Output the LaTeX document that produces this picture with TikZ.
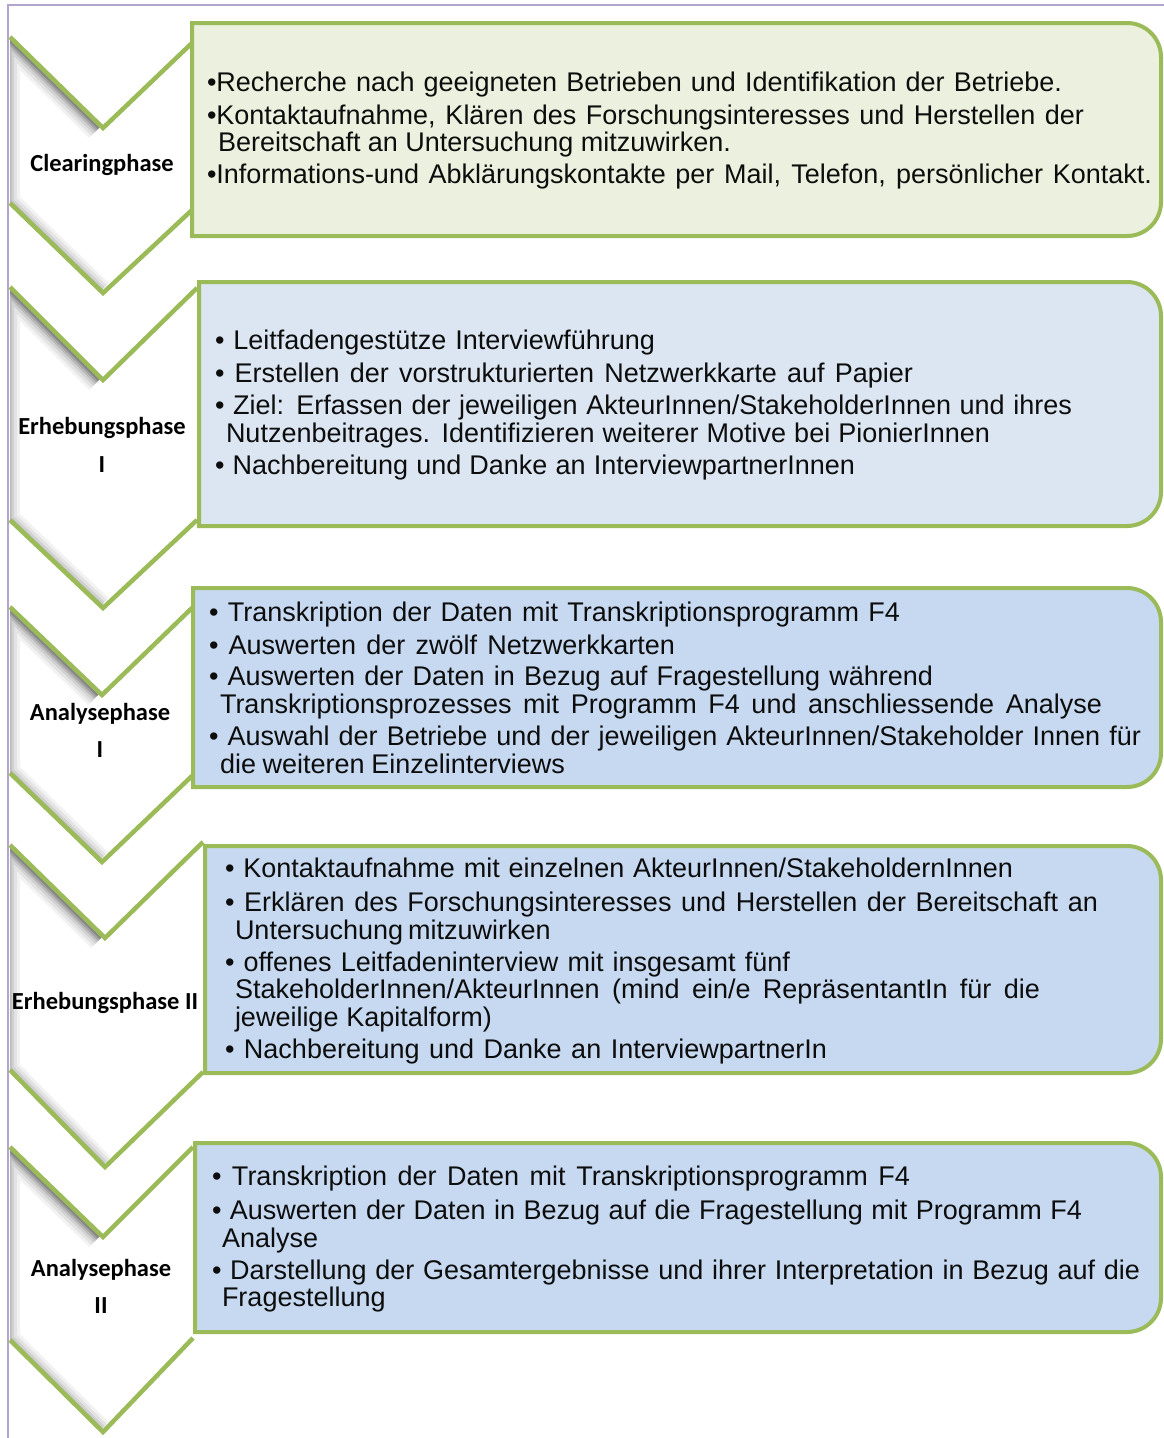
\documentclass[tikz,border=0pt]{standalone}
\usepackage{fontspec}
\setmainfont{Liberation Sans}
\newfontfamily\labfont{Carlito}
\begin{document}
\begin{tikzpicture}[x=1pt,y=-1pt,line join=miter]
\definecolor{leaf}{HTML}{9BBB59}
\definecolor{paleleaf}{HTML}{EBF1DE}
\definecolor{paleblue}{HTML}{DCE6F2}
\definecolor{midblue}{HTML}{C6D9F1}
\definecolor{frame}{HTML}{B4A5D0}
\definecolor{ink}{HTML}{0D0D0D}
\tikzset{
  txt/.style={anchor=base west,inner sep=0pt,outer sep=0pt,text=ink,
    font=\fontsize{27}{30}\selectfont},
  lab/.style={anchor=center,inner sep=0pt,text=black,
    font=\labfont\bfseries\fontsize{24.5}{27}\selectfont},
  edge/.style={draw=leaf,line width=4.5pt},
  panel/.style={draw=leaf,line width=4pt},
}
% one text line stretched to a given width
\newcommand\tl[5]{\node[txt] (#1) at (#2,#3) {\makebox[#4pt][s]{#5}};}
\newcommand\tn[4]{\node[txt] (#1) at (#2,#3) {#4};}
% chevron: left x, notch x, right x, top y, notch y, right-top y, bottom y right, tip y, bottom y left
\newcommand\chev[9]{%
  \begin{scope}
    \clip (#1,#4) -- (#2,#5) -- (#3,#6) -- (#3,#7) -- (#2,#8) -- (#1,#9) -- cycle;
    \fill[white] (#1,#4) -- (#2,#5) -- (#3,#6) -- (#3,#7) -- (#2,#8) -- (#1,#9) -- cycle;
    % soft inner shadow along the left side
    \foreach \w/\o in {28/0.05,22/0.06,16/0.08,11/0.10,7/0.13,3/0.16}{
      \draw[black,opacity=\o,line width=\w pt,xshift=-4pt]
        (#2,#5) -- (#1,#4) -- (#1,#9) -- (#2,#8);}
  \end{scope}
  \draw[edge] (#1,#4) -- (#2,#5) -- (#3,#6);
  \draw[edge] (#3,#7) -- (#2,#8) -- (#1,#9);
}
% panel with rounded right corners
\newcommand\panel[6]{%
  \pgfmathsetmacro\pa{#3-#5}\pgfmathsetmacro\pb{#3-0.448*#5}%
  \pgfmathsetmacro\pc{#2+#5}\pgfmathsetmacro\pd{#2+0.448*#5}%
  \pgfmathsetmacro\pe{#4-#5}\pgfmathsetmacro\pf{#4-0.448*#5}%
  \draw[panel,fill=#6] (#1,#2) -- (\pa,#2) .. controls (\pb,#2) and (#3,\pd) .. (#3,\pc)
    -- (#3,\pe) .. controls (#3,\pf) and (\pb,#4) .. (\pa,#4) -- (#1,#4) -- cycle;
}
\useasboundingbox (0,0) rectangle (1164,1438);
\fill[white] (0,0) rectangle (1164,1438);
% outer frame lines
\draw[frame,line width=2pt] (1164,5) -- (8,5) -- (8,1438);

% chevrons
\chev{10}{103}{192}{37}{128}{43}{210}{293}{203}
\chev{10}{103}{197}{287}{380}{288}{520}{608}{520}
\chev{10}{102}{193}{607}{695}{607}{775}{862}{773}
\chev{10}{105}{203}{845}{938}{842}{1072}{1167}{1070}
\chev{10}{103}{193}{1147}{1237}{1147}{1338}{1432}{1340}

% panels
\panel{192}{23}{1161}{236}{34}{paleleaf}
\panel{199}{282}{1161}{526}{34}{paleblue}
\panel{193}{588}{1161}{787}{34}{midblue}
\panel{205}{846}{1161}{1073}{34}{midblue}
\panel{195}{1143}{1161}{1332}{34}{midblue}

% phase labels
\node[lab] (p1) at (102,165) {Clearingphase};
\node[lab] (p2a) at (102,428) {Erhebungsphase};
\node[lab] (p2b) at (102,465) {I};
\node[lab] (p3a) at (100,714) {Analysephase};
\node[lab] (p3b) at (100,750) {I};
\node[lab] (p4) at (105,1003) {Erhebungsphase II};
\node[lab] (p5a) at (101,1270) {Analysephase};
\node[lab] (p5b) at (101,1306) {II};

% clearing
\tl{a1}{207}{91}{855}{•Recherche nach geeigneten Betrieben und Identifikation der Betriebe.}
\tl{a2}{207}{124}{877}{•Kontaktaufnahme, Klären des Forschungsinteresses und Herstellen der}
\tl{a3}{218}{151}{513}{Bereitschaft an Untersuchung mitzuwirken.}
\tl{a4}{207}{183}{945}{•Informations-und Abklärungskontakte per Mail, Telefon, persönlicher Kontakt.}

% erhebung I
\tl{b1}{215}{349}{440}{• Leitfadengestütze Interviewführung}
\tl{b2}{215}{382}{698}{• Erstellen der vorstrukturierten Netzwerkkarte auf Papier}
\tl{b3}{215}{414}{857}{• Ziel: Erfassen der jeweiligen AkteurInnen/StakeholderInnen und ihres}
\tl{b4}{226}{442}{764}{Nutzenbeitrages. Identifizieren weiterer Motive bei PionierInnen}
\tl{b5}{215}{474}{640}{• Nachbereitung und Danke an InterviewpartnerInnen}

% analyse I
\tl{c1}{209}{621}{691}{• Transkription der Daten mit Transkriptionsprogramm F4}
\tl{c2}{209}{654}{466}{• Auswerten der zwölf Netzwerkkarten}
\tl{c3}{209}{685}{724}{• Auswerten der Daten in Bezug auf Fragestellung während}
\tl{c4}{220}{713}{882}{Transkriptionsprozesses mit Programm F4 und anschliessende Analyse}
\tl{c5}{209}{745}{932}{• Auswahl der Betriebe und der jeweiligen AkteurInnen/Stakeholder Innen für}
\tl{c6}{220}{773}{345}{die weiteren Einzelinterviews}

% erhebung II
\tl{d1}{225}{877}{788}{• Kontaktaufnahme mit einzelnen AkteurInnen/StakeholdernInnen}
\tl{d2}{225}{911}{873}{• Erklären des Forschungsinteresses und Herstellen der Bereitschaft an}
\tl{d3}{235}{939}{315}{Untersuchung mitzuwirken}
\tl{d4}{225}{971}{565}{• offenes Leitfadeninterview mit insgesamt fünf}
\tl{d5}{235}{998}{805}{StakeholderInnen/AkteurInnen (mind ein/e RepräsentantIn für die}
\tl{d6}{235}{1026}{257}{jeweilige Kapitalform)}
\tl{d7}{225}{1058}{602}{• Nachbereitung und Danke an InterviewpartnerIn}

% analyse II
\tl{e1}{212}{1185}{698}{• Transkription der Daten mit Transkriptionsprogramm F4}
\tl{e2}{212}{1219}{870}{• Auswerten der Daten in Bezug auf die Fragestellung mit Programm F4}
\tn{e3}{222}{1247}{Analyse}
\tl{e4}{212}{1279}{928}{• Darstellung der Gesamtergebnisse und ihrer Interpretation in Bezug auf die}
\tn{e5}{222}{1306}{Fragestellung}
\end{tikzpicture}
\end{document}
